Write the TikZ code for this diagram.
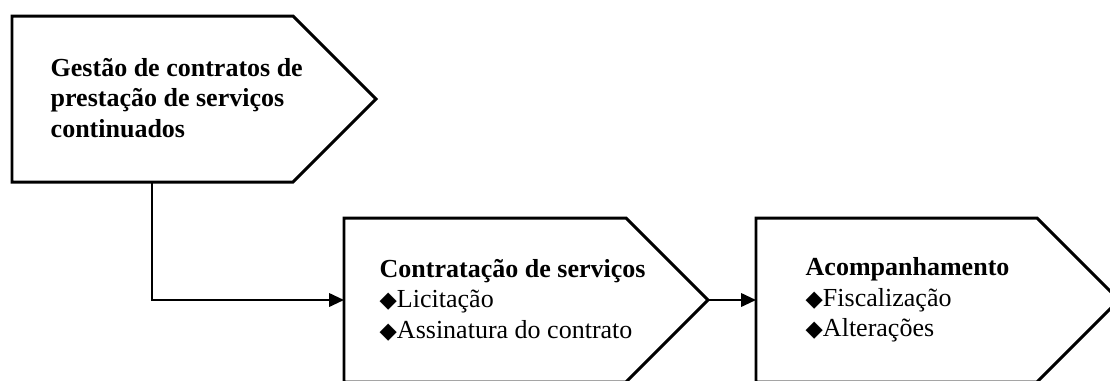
\documentclass[tikz,border=0pt]{standalone}
\usepackage{fontspec}
\setmainfont{Liberation Serif}
\newfontfamily\markfont{DejaVu Sans}
\usetikzlibrary{arrows.meta,positioning}
\newcommand{\itemmark}{{\markfont\fontsize{6.4}{8.7}\selectfont ◆}}

\tikzset{
    stagebox/.style={draw=black, line width=0.85pt, line join=miter},
    flowline/.style={draw=black, line width=0.6pt, -{Triangle[length=4.2pt,width=3.8pt]}},
    stagetext/.style={font=\fontsize{7.4}{8.7}\selectfont, align=left, anchor=west, inner sep=0pt}
}

\begin{document}
\begin{tikzpicture}
    \useasboundingbox (0,0) rectangle (11.1,3.8);

    % Stage 0: overall process
    \draw[stagebox] (0.12,3.64) -- (2.93,3.64) -- (3.76,2.81) -- (2.93,1.98) -- (0.12,1.98) -- cycle;
    \coordinate (gestao out) at (1.52,1.98);
    \node[stagetext] (gestao) at (0.50,2.82) {\bfseries Gestão de contratos de\\ \bfseries prestação de serviços\\ \bfseries continuados};

    % Stage 1: contracting
    \draw[stagebox] (3.44,1.62) -- (6.26,1.62) -- (7.08,0.80) -- (6.26,-0.02) -- (3.44,-0.02) -- cycle;
    \coordinate (contr in) at (3.44,0.80);
    \coordinate (contr out) at (7.08,0.80);
    \node[stagetext] (contr) at (3.79,0.80) {\bfseries Contratação de serviços\\ \itemmark Licitação\\ \itemmark Assinatura do contrato};

    % Stage 2: follow-up
    \draw[stagebox] (7.56,1.62) -- (10.37,1.62) -- (11.19,0.80) -- (10.37,-0.02) -- (7.56,-0.02) -- cycle;
    \coordinate (acomp in) at (7.56,0.80);
    \node[stagetext] (acomp) at (8.05,0.80) {\bfseries Acompanhamento\\ \itemmark Fiscalização\\ \itemmark Alterações};

    % Connectors
    \draw[flowline] (gestao out) |- (contr in);
    \draw[flowline] (contr out) -- (acomp in);
\end{tikzpicture}
\end{document}
